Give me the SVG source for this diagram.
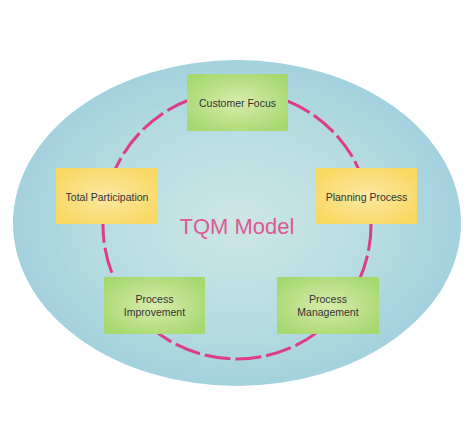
<svg xmlns="http://www.w3.org/2000/svg" width="474" height="438" viewBox="0 0 474 438">
<defs>
<radialGradient id="bg" cx="50%" cy="50%" r="50%">
<stop offset="0" stop-color="#cde6e5"/>
<stop offset="0.6" stop-color="#b8dde1"/>
<stop offset="1" stop-color="#a3d1de"/>
</radialGradient>
<radialGradient id="gg" cx="50%" cy="50%" r="60%">
<stop offset="0" stop-color="#d7ecab"/>
<stop offset="1" stop-color="#a7d870"/>
</radialGradient>
<radialGradient id="yg" cx="50%" cy="50%" r="60%">
<stop offset="0" stop-color="#fbe8a2"/>
<stop offset="1" stop-color="#f8d862"/>
</radialGradient>
<style>
.box{stroke:none}
.g{fill:url(#gg)}
.y{fill:url(#yg)}
.lbl{font-family:"Liberation Sans",Arial,sans-serif;font-size:10.5px;fill:#333;text-anchor:middle}
.ring{fill:none;stroke:#dc3d86;stroke-width:3;stroke-dasharray:26 5}
</style>
</defs>
<rect width="474" height="438" fill="#fff"/>
<ellipse cx="237" cy="223" rx="224" ry="163" fill="url(#bg)"/>
<g id="connectors">
<circle class="ring" cx="237" cy="225" r="134"/>
</g>
<text x="237" y="234" font-family="Liberation Sans,Arial,sans-serif" font-size="22" fill="#dc5a93" text-anchor="middle">TQM Model</text>
<g id="customer-focus">
<rect class="box g" x="187" y="74" width="101" height="57"/>
<text class="lbl" x="237.5" y="107">Customer Focus</text>
</g>
<g id="total-participation">
<rect class="box y" x="56" y="168" width="102" height="56"/>
<text class="lbl" x="107" y="201">Total Participation</text>
</g>
<g id="planning-process">
<rect class="box y" x="316" y="168" width="101" height="56"/>
<text class="lbl" x="366.5" y="201">Planning Process</text>
</g>
<g id="process-improvement">
<rect class="box g" x="104" y="277" width="101" height="57"/>
<text class="lbl" x="154.5" y="303">Process</text>
<text class="lbl" x="154.5" y="316">Improvement</text>
</g>
<g id="process-management">
<rect class="box g" x="277" y="277" width="102" height="57"/>
<text class="lbl" x="328" y="303">Process</text>
<text class="lbl" x="328" y="316">Management</text>
</g>
</svg>
